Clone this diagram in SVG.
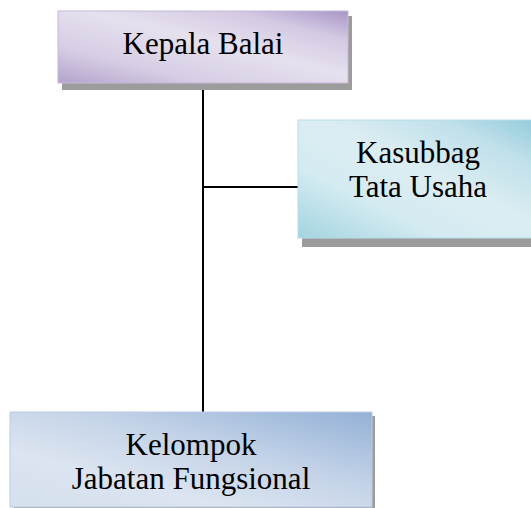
<svg xmlns="http://www.w3.org/2000/svg" width="531" height="508" viewBox="0 0 531 508">
<defs>
<linearGradient id="gP" x1="0" y1="1" x2="1" y2="0">
<stop offset="0" stop-color="#b3a2cc"/>
<stop offset="0.25" stop-color="#d6cde4"/>
<stop offset="0.55" stop-color="#e6e0ee"/>
<stop offset="0.8" stop-color="#d3c9e2"/>
<stop offset="1" stop-color="#a795c6"/>
</linearGradient>
<linearGradient id="gT" x1="0" y1="1" x2="1" y2="0">
<stop offset="0" stop-color="#a3d3e0"/>
<stop offset="0.3" stop-color="#d4ebf1"/>
<stop offset="0.55" stop-color="#dcedf2"/>
<stop offset="0.8" stop-color="#bfe0ea"/>
<stop offset="1" stop-color="#92cbdb"/>
</linearGradient>
<linearGradient id="gB" x1="0" y1="1" x2="1" y2="0">
<stop offset="0" stop-color="#d5e0ee"/>
<stop offset="0.3" stop-color="#dbe4f0"/>
<stop offset="0.6" stop-color="#c4d3e8"/>
<stop offset="1" stop-color="#93b1d6"/>
</linearGradient>
<style>
.sh{fill:#9c9c9c}
.t{font-family:"Liberation Serif","Times New Roman",serif;font-size:31px;fill:#000;text-anchor:middle}
.ln{stroke:#000;stroke-width:2;fill:none}
</style>
</defs>
<g id="connectors">
<line class="ln" x1="203" y1="84" x2="203" y2="412"/>
<line class="ln" x1="203" y1="187" x2="298" y2="187"/>
</g>
<g id="kepala">
<rect class="sh" x="62" y="16" width="290" height="74"/>
<rect x="58" y="11" width="290" height="72" fill="url(#gP)" stroke="#c6b8da" stroke-width="1"/>
<text class="t" x="203" y="54">Kepala Balai</text>
</g>
<g id="kasubbag">
<rect class="sh" x="302" y="126" width="240" height="121"/>
<rect x="298" y="120" width="240" height="118" fill="url(#gT)" stroke="#b5dde8" stroke-width="1"/>
<text class="t" x="418" y="163">Kasubbag</text>
<text class="t" x="418" y="197">Tata Usaha</text>
</g>
<g id="kelompok">
<rect class="sh" x="14" y="416" width="361" height="96"/>
<rect x="10" y="412" width="362" height="95" fill="url(#gB)" stroke="#b9cce4" stroke-width="1"/>
<text class="t" x="191" y="455">Kelompok</text>
<text class="t" x="191" y="489">Jabatan Fungsional</text>
</g>
</svg>
